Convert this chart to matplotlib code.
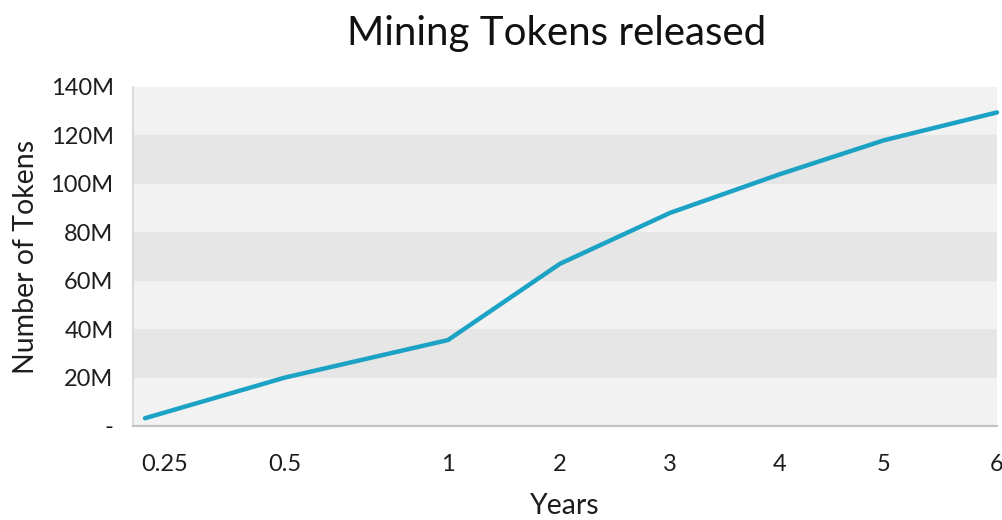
# Mining Tokens released - line chart with banded background

import numpy as np
import matplotlib.pyplot as plt
import matplotlib.transforms as mtrans

years = [0.25, 0.5, 1, 2, 3, 4, 5, 6]
year_labels = ['0.25', '0.5', '1', '2', '3', '4', '5', '6']
tokens_m = [3.2, 20, 35.5, 67, 88, 104, 118, 129.5]   # millions

y_ticks = [0, 20, 40, 60, 80, 100, 120, 140]
y_labels = ['-', '20M', '40M', '60M', '80M', '100M', '120M', '140M']

# spacing of the categories along the x axis (the original axis is not uniform)
slot = np.array([12, 152, 315, 427, 537, 647, 751, 864], dtype=float)
yr = np.array(years, dtype=float)
k0 = (slot[1] - slot[0]) / (yr[1] - yr[0])
k1 = (slot[-1] - slot[-2]) / (yr[-1] - yr[-2])


def fwd(v):
    v = np.asarray(v, dtype=float)
    out = np.interp(v, yr, slot)
    out = np.where(v < yr[0], slot[0] + (v - yr[0]) * k0, out)
    out = np.where(v > yr[-1], slot[-1] + (v - yr[-1]) * k1, out)
    return out


def inv(p):
    p = np.asarray(p, dtype=float)
    out = np.interp(p, slot, yr)
    out = np.where(p < slot[0], yr[0] + (p - slot[0]) / k0, out)
    out = np.where(p > slot[-1], yr[-1] + (p - slot[-1]) / k1, out)
    return out


plt.rcParams['font.family'] = ['Lato', 'DejaVu Sans']
txt = '#1e1e1e'

fig = plt.figure(figsize=(10.03, 5.20), dpi=100)
ax = fig.add_axes([0.1326, 0.1808, 0.8614, 0.6519])

ax.set_xscale('function', functions=(fwd, inv))
ax.set_facecolor('#f2f2f2')

# darker bands every other 20M
for lo, hi in zip(y_ticks[1:-1:2], y_ticks[2::2]):
    ax.axhspan(lo, hi, color='#e6e6e6', lw=0, zorder=0)

ax.plot(years, tokens_m, color='#1ba2c4', lw=3.2, solid_capstyle='round',
        solid_joinstyle='round', clip_on=False, zorder=3)

ax.set_xlim(float(inv(0)), 6)
ax.set_ylim(0, 140)
ax.set_xticks(years)
ax.set_xticklabels(year_labels)
ax.set_yticks(y_ticks)
ax.set_yticklabels(y_labels)
ax.tick_params(axis='both', length=0, labelsize=17, colors=txt)
ax.tick_params(axis='x', pad=20)
ax.tick_params(axis='y', pad=14)

# first year label sits a little to the right of its point in the original
first = ax.get_xticklabels()[0]
first.set_transform(first.get_transform() +
                    mtrans.ScaledTranslation(0.2, 0, fig.dpi_scale_trans))

for s in ['top', 'right']:
    ax.spines[s].set_visible(False)
ax.spines['left'].set_color('#d4d4d4')
ax.spines['left'].set_linewidth(1.2)
ax.spines['bottom'].set_color('#c4c4c4')
ax.spines['bottom'].set_linewidth(1.6)

ax.set_xlabel('Years', fontsize=20.5, color=txt, labelpad=13)
ax.set_ylabel('Number of Tokens', fontsize=20.5, color=txt, labelpad=8)
fig.text(0.555, 0.935, 'Mining Tokens released', fontsize=29, color='#111111',
         ha='center', va='center')

plt.savefig('out.png', dpi=100)
